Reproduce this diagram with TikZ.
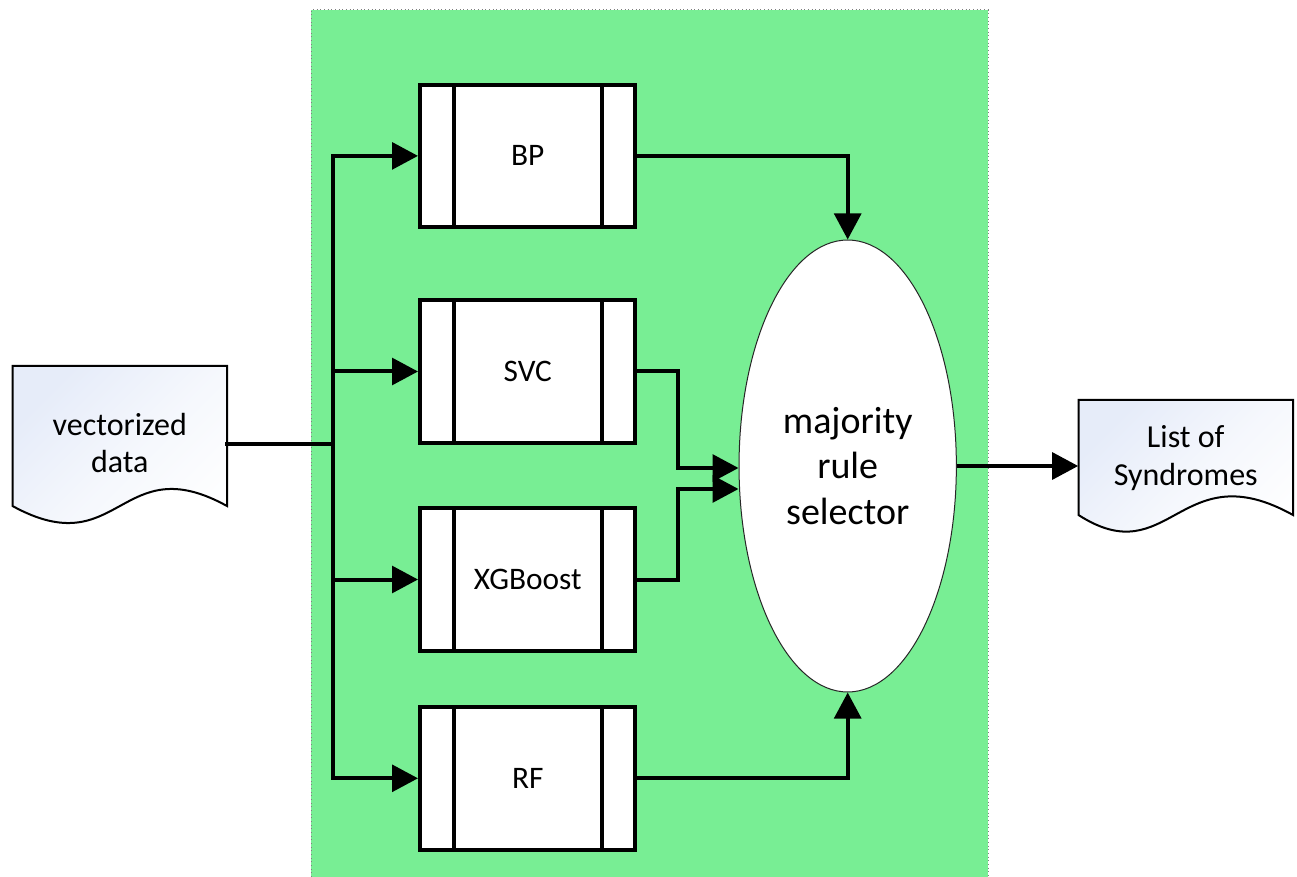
\documentclass[tikz,border=0pt]{standalone}
\usepackage{fontspec}
\setmainfont{Carlito}
\usetikzlibrary{arrows.meta,shapes.geometric,calc}
\definecolor{panelgreen}{RGB}{120,238,148}
\definecolor{docblue}{RGB}{230,236,249}

\begin{document}
\begin{tikzpicture}[x=0.75pt,y=-0.75pt,
  wire/.style={line width=3pt,line cap=rect},
  conn/.style={line width=3pt,-{Triangle[length=19.5pt,width=20pt]}},
  procbox/.style={draw,line width=3pt,fill=white,
    minimum width=161.6pt,minimum height=106.9pt,inner sep=0pt,
    font=\fontsize{23.5}{28}\selectfont,
    path picture={
      \draw[line width=3pt]
        ([xshift=25.5pt]path picture bounding box.north west) --
        ([xshift=25.5pt]path picture bounding box.south west)
        ([xshift=-25pt]path picture bounding box.north east) --
        ([xshift=-25pt]path picture bounding box.south east);}},
  doctext/.style={align=center,inner sep=0pt,font=\fontsize{24}{28}\selectfont},
  docshape/.style={draw,line width=1.5pt,top color=docblue,bottom color=white,
    middle color=docblue!40!white,shading angle=45},
]
\useasboundingbox (0,0) rectangle (1297,877);

% green panel holding the classifiers
\fill[panelgreen] (311,10) rectangle (988,877);
\draw[dotted,gray,line width=0.75pt] (311,877) -- (311,10) -- (988,10) -- (988,877);

% input and output documents
\path[docshape] (12.5,366) -- (227,366) -- (227,506)
  .. controls (120,447) and (120,565) .. (12.5,506) -- cycle;
\node[doctext,minimum width=160.9pt] (vd) at (119.75,443) {vectorized\\data};

\path[docshape] (1078.5,400) -- (1293,400) -- (1293,515)
  .. controls (1180,452) and (1170,574) .. (1078.5,515) -- cycle;
\node[doctext,minimum width=160.9pt] (ls) at (1185.75,458) {List of\\Syndromes};

% classifiers
\node[procbox] (bp)  at (527.75,155.9) {BP};
\node[procbox] (svc) at (527.75,371.5) {SVC};
\node[procbox] (xgb) at (527.75,579.5) {XGBoost};
\node[procbox] (rf)  at (527.75,778.3) {RF};

% voting stage
\node[ellipse,draw=black!85,line width=0.75pt,fill=white,
  minimum width=163pt,minimum height=339pt,inner sep=0pt,align=center,
  font=\fontsize{28.5}{34}\selectfont] (sel) at (847.7,466) {majority\\rule\\selector};

% distribution of the input
\coordinate (tr) at (333.3,444);
\draw[wire] (vd.east |- tr) -- (tr);
\draw[wire] (bp.west -| tr) -- (rf.west -| tr);
\foreach \b in {bp,svc,xgb,rf}
  \draw[conn] (\b.west -| tr) -- (\b.west);

% classifier outputs to the selector
\draw[conn] (bp.east) -| (sel.north);
\draw[conn] (rf.east) -| (sel.south);
\draw[conn] (svc.east) -| ($(sel.west)+(-61,2)$) -- ($(sel.west)+(0,2)$);
\draw[conn] (xgb.east) -| ($(sel.west)+(-61,23)$) -- ($(sel.west)+(0,23)$);

% result
\draw[conn] (sel.east) -- (sel.east -| ls.west);
\end{tikzpicture}
\end{document}
